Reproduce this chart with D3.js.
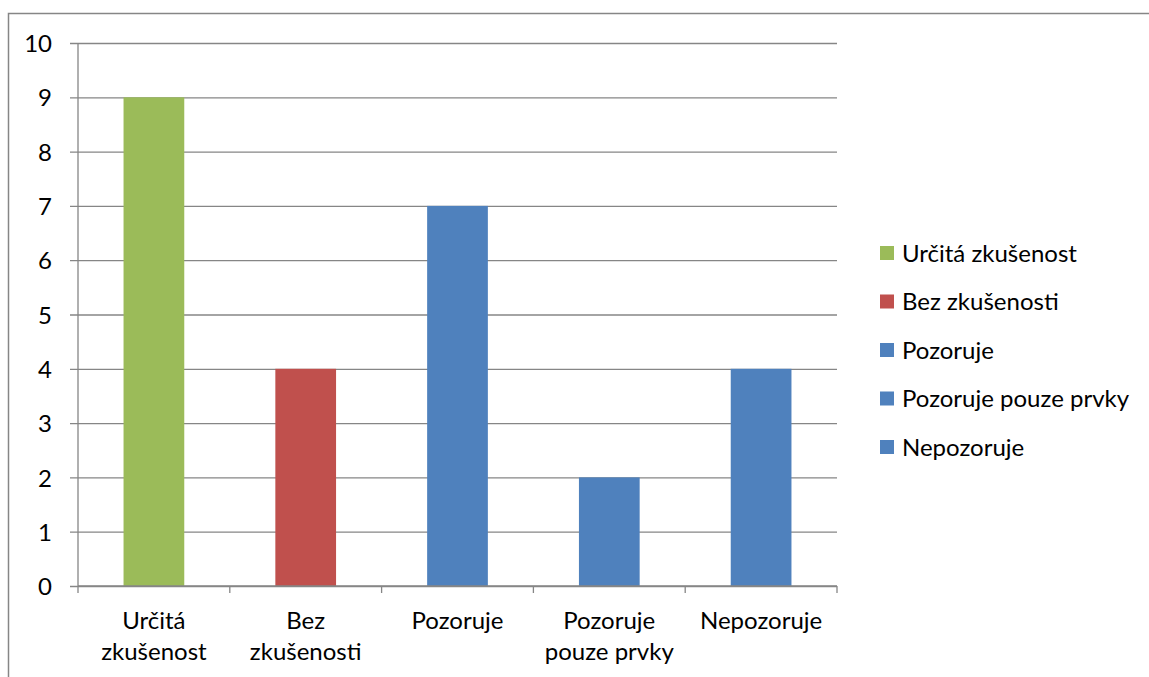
<!DOCTYPE html>
<html>
<head>
<meta charset="utf-8">
<script src="https://cdn.jsdelivr.net/npm/d3@7"></script>
<style>
  html, body { margin: 0; padding: 0; background: #fff; }
  svg { display: block; }
  text { font-family: Lato, "Open Sans", sans-serif; fill: #000; }
</style>
</head>
<body>
<svg id="chart" width="1149" height="677"></svg>
<script>
// Categories and counts
const categories = ["Určitá zkušenost", "Bez zkušenosti", "Pozoruje", "Pozoruje pouze prvky", "Nepozoruje"];
const axisLabels = [["Určitá", "zkušenost"], ["Bez", "zkušenosti"], ["Pozoruje"], ["Pozoruje", "pouze prvky"], ["Nepozoruje"]];
const values = [9, 4, 7, 2, 4];
const colors = ["#9BBB59", "#C0504D", "#4F81BD", "#4F81BD", "#4F81BD"];
const yTicks = [0, 1, 2, 3, 4, 5, 6, 7, 8, 9, 10];

const svg = d3.select("#chart");
const gridColor = "#868686";
const fontSize = 24;

// Outer chart frame (runs past the right and bottom edges)
svg.append("rect")
  .attr("x", 8.5).attr("y", 13.5)
  .attr("width", 1160).attr("height", 700)
  .attr("fill", "none").attr("stroke", gridColor).attr("stroke-width", 1.5);

const plot = { left: 78, right: 837, top: 43, bottom: 586 };

const x = d3.scaleBand().domain(categories).range([plot.left, plot.right]).padding(0);
const y = d3.scaleLinear().domain([0, 10]).range([plot.bottom, plot.top]);

// Horizontal gridlines with left tick marks
const yAxis = d3.axisLeft(y).tickValues(yTicks).tickSize(-(plot.right - plot.left)).tickFormat(d3.format("d"));
const gy = svg.append("g").attr("transform", `translate(${plot.left},0)`).call(yAxis);
gy.select(".domain").remove();
gy.selectAll(".tick line").attr("stroke", gridColor).attr("stroke-width", 1.3).attr("x1", -8);
gy.selectAll(".tick text").attr("font-size", fontSize).attr("dy", "0.36em").attr("x", -26)
  .style("font-family", "Lato, 'Open Sans', sans-serif");

// Vertical axis line
svg.append("line")
  .attr("x1", plot.left).attr("x2", plot.left)
  .attr("y1", plot.top).attr("y2", plot.bottom)
  .attr("stroke", gridColor).attr("stroke-width", 1.3);

// Bars
const barFrac = 0.4;
svg.append("g").selectAll("rect")
  .data(categories)
  .join("rect")
  .attr("x", d => x(d) + x.bandwidth() * (1 - barFrac) / 2)
  .attr("width", x.bandwidth() * barFrac)
  .attr("y", (d, i) => y(values[i]))
  .attr("height", (d, i) => y(0) - y(values[i]))
  .attr("fill", (d, i) => colors[i]);

// Category axis: baseline and boundary ticks
const boundaries = categories.map(c => x(c)).concat([x(categories[categories.length - 1]) + x.bandwidth()]);
svg.append("line")
  .attr("x1", plot.left).attr("x2", plot.right)
  .attr("y1", plot.bottom).attr("y2", plot.bottom)
  .attr("stroke", gridColor).attr("stroke-width", 1.3);
svg.append("g").selectAll("line")
  .data(boundaries)
  .join("line")
  .attr("x1", d => d).attr("x2", d => d)
  .attr("y1", plot.bottom).attr("y2", plot.bottom + 7)
  .attr("stroke", gridColor).attr("stroke-width", 1.3);

// Category labels (wrapped onto two lines where needed)
const lab = svg.append("g").selectAll("text")
  .data(categories)
  .join("text")
  .attr("x", d => x(d) + x.bandwidth() / 2)
  .attr("y", 629)
  .attr("text-anchor", "middle")
  .attr("font-size", fontSize);
lab.each(function(d, i) {
  const t = d3.select(this);
  axisLabels[i].forEach((line, j) => {
    t.append("tspan").attr("x", x(d) + x.bandwidth() / 2).attr("dy", j === 0 ? 0 : 31).text(line);
  });
});

// Legend
const legend = svg.append("g").selectAll("g")
  .data(categories)
  .join("g")
  .attr("transform", (d, i) => `translate(880, ${246 + i * 48.5})`);
legend.append("rect")
  .attr("width", 14).attr("height", 14)
  .attr("fill", (d, i) => colors[i]);
legend.append("text")
  .attr("x", 22).attr("y", 7)
  .attr("dy", "0.36em")
  .attr("font-size", fontSize)
  .text(d => d);
</script>
</body>
</html>
